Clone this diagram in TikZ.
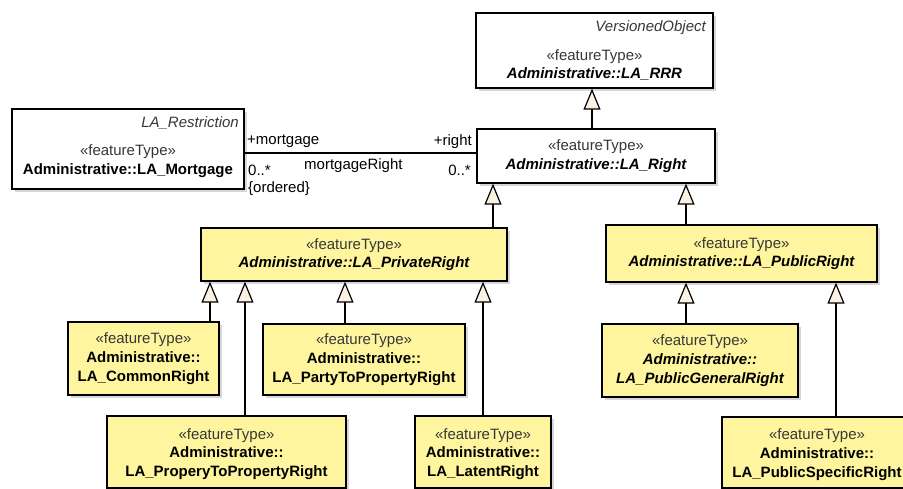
\documentclass[tikz,border=0pt]{standalone}
\usepackage{fontspec}
\setmainfont{Liberation Sans}
\usetikzlibrary{arrows.meta,shadows}
\definecolor{boxyellow}{RGB}{254,245,158}
\definecolor{trifill}{RGB}{252,240,226}
\definecolor{stereo}{RGB}{55,55,55}
\newcommand{\stt}{{\color{stereo}«featureType»}}
\begin{document}
\begin{tikzpicture}[x=1pt,y=-1pt,
  umlbox/.style={draw=black, line width=1.3pt, fill=white, inner sep=0pt, align=center,
    font=\fontsize{15}{18.7}\selectfont,
    drop shadow={shadow xshift=3pt, shadow yshift=-3pt, fill=black!35, opacity=0.45}},
  ybox/.style={umlbox, fill=boxyellow},
  txt/.style={inner sep=0pt, align=center, font=\fontsize{15}{18.7}\selectfont},
  lbl/.style={inner sep=0pt, font=\fontsize{15}{17}\selectfont},
  gen/.style={draw=black, line width=1.2pt, -{Triangle[length=21pt,width=17pt,fill=trifill]}},
  assoc/.style={draw=black, line width=1.2pt}]
\useasboundingbox (0,0) rectangle (903,489);
\fill[white] (0,0) rectangle (903,489);

% boxes
\node[umlbox, minimum width=237pt, minimum height=75pt] (rrr) at (594.5,50.5) {};
\node[txt] (rrrtxt) at (594.5,65) {\stt\\\bfseries\itshape Administrative::LA\_RRR};
\node[txt, anchor=east] (rrrpar) at (706,28) {\itshape\color{stereo}VersionedObject};

\node[umlbox, minimum width=238pt, minimum height=54pt] (right) at (596,156)
  {\stt\\\bfseries\itshape Administrative::LA\_Right};

\node[umlbox, minimum width=232pt, minimum height=80pt] (mortgage) at (128,149) {};
\node[txt] (mortgagetxt) at (128,161) {\stt\\\bfseries Administrative::LA\_Mortgage};
\node[txt, anchor=east] (mortgagepar) at (239,122.5) {\itshape\color{stereo}LA\_Restriction};

\node[ybox, minimum width=306pt, minimum height=53pt] (priv) at (354,254.5)
  {\stt\\\bfseries\itshape Administrative::LA\_PrivateRight};
\node[ybox, minimum width=271pt, minimum height=57pt] (pub) at (741.5,253.5)
  {\stt\\\bfseries\itshape Administrative::LA\_PublicRight};

\node[ybox, minimum width=151pt, minimum height=73pt] (common) at (143.5,358.5)
  {\stt\\\bfseries Administrative::\\\bfseries LA\_CommonRight};
\node[ybox, minimum width=202pt, minimum height=71pt] (party) at (364,359.5)
  {\stt\\\bfseries Administrative::\\\bfseries LA\_PartyToPropertyRight};
\node[ybox, minimum width=196pt, minimum height=73pt] (pubgen) at (700,360.5)
  {\stt\\\bfseries\itshape Administrative::\\\bfseries\itshape LA\_PublicGeneralRight};

\node[ybox, minimum width=239pt, minimum height=72pt] (ptp) at (226.5,452)
  {\rule{0pt}{15pt}\stt\\\bfseries Administrative::\\\bfseries LA\_ProperyToPropertyRight};
\node[ybox, minimum width=136pt, minimum height=72pt] (latent) at (483,452)
  {\rule{0pt}{15pt}\stt\\\bfseries Administrative::\\\bfseries LA\_LatentRight};
\node[ybox, minimum width=190pt, minimum height=71pt] (pubspec) at (817,452.5)
  {\rule{0pt}{15pt}\stt\\\bfseries Administrative::\\\bfseries LA\_PublicSpecificRight};

% association
\coordinate (ya) at (0,153);
\draw[assoc] (mortgage.east |- ya) -- (right.west |- ya);
\node[lbl, anchor=west] (lm) at (247,141.5) {+mortgage};
\node[lbl, anchor=east] (lr) at (472,141.5) {+right};
\node[lbl, anchor=west] (lm0) at (248,170) {0..*};
\node[lbl, anchor=west] (lmr) at (304,166) {mortgageRight};
\node[lbl, anchor=east] (lr0) at (471,170) {0..*};
\node[lbl, anchor=west] (lord) at (248,189) {\{ordered\}};

% generalizations
\coordinate (xr) at (592,0);
\coordinate (xa) at (493,0);
\coordinate (xb) at (686,0);
\coordinate (xc) at (210,0);
\coordinate (xd) at (245,0);
\coordinate (xe) at (345,0);
\coordinate (xf) at (483,0);
\coordinate (xg) at (836,0);
\draw[gen] (right.north -| xr) -- (rrr.south -| xr);
\draw[gen] (priv.north -| xa) -- (right.south -| xa);
\draw[gen] (pub.north -| xb) -- (right.south -| xb);
\draw[gen] (common.north -| xc) -- (priv.south -| xc);
\draw[gen] (ptp.north -| xd) -- (priv.south -| xd);
\draw[gen] (party.north -| xe) -- (priv.south -| xe);
\draw[gen] (latent.north -| xf) -- (priv.south -| xf);
\draw[gen] (pubgen.north -| xb) -- (pub.south -| xb);
\draw[gen] (pubspec.north -| xg) -- (pub.south -| xg);
\end{tikzpicture}
\end{document}
